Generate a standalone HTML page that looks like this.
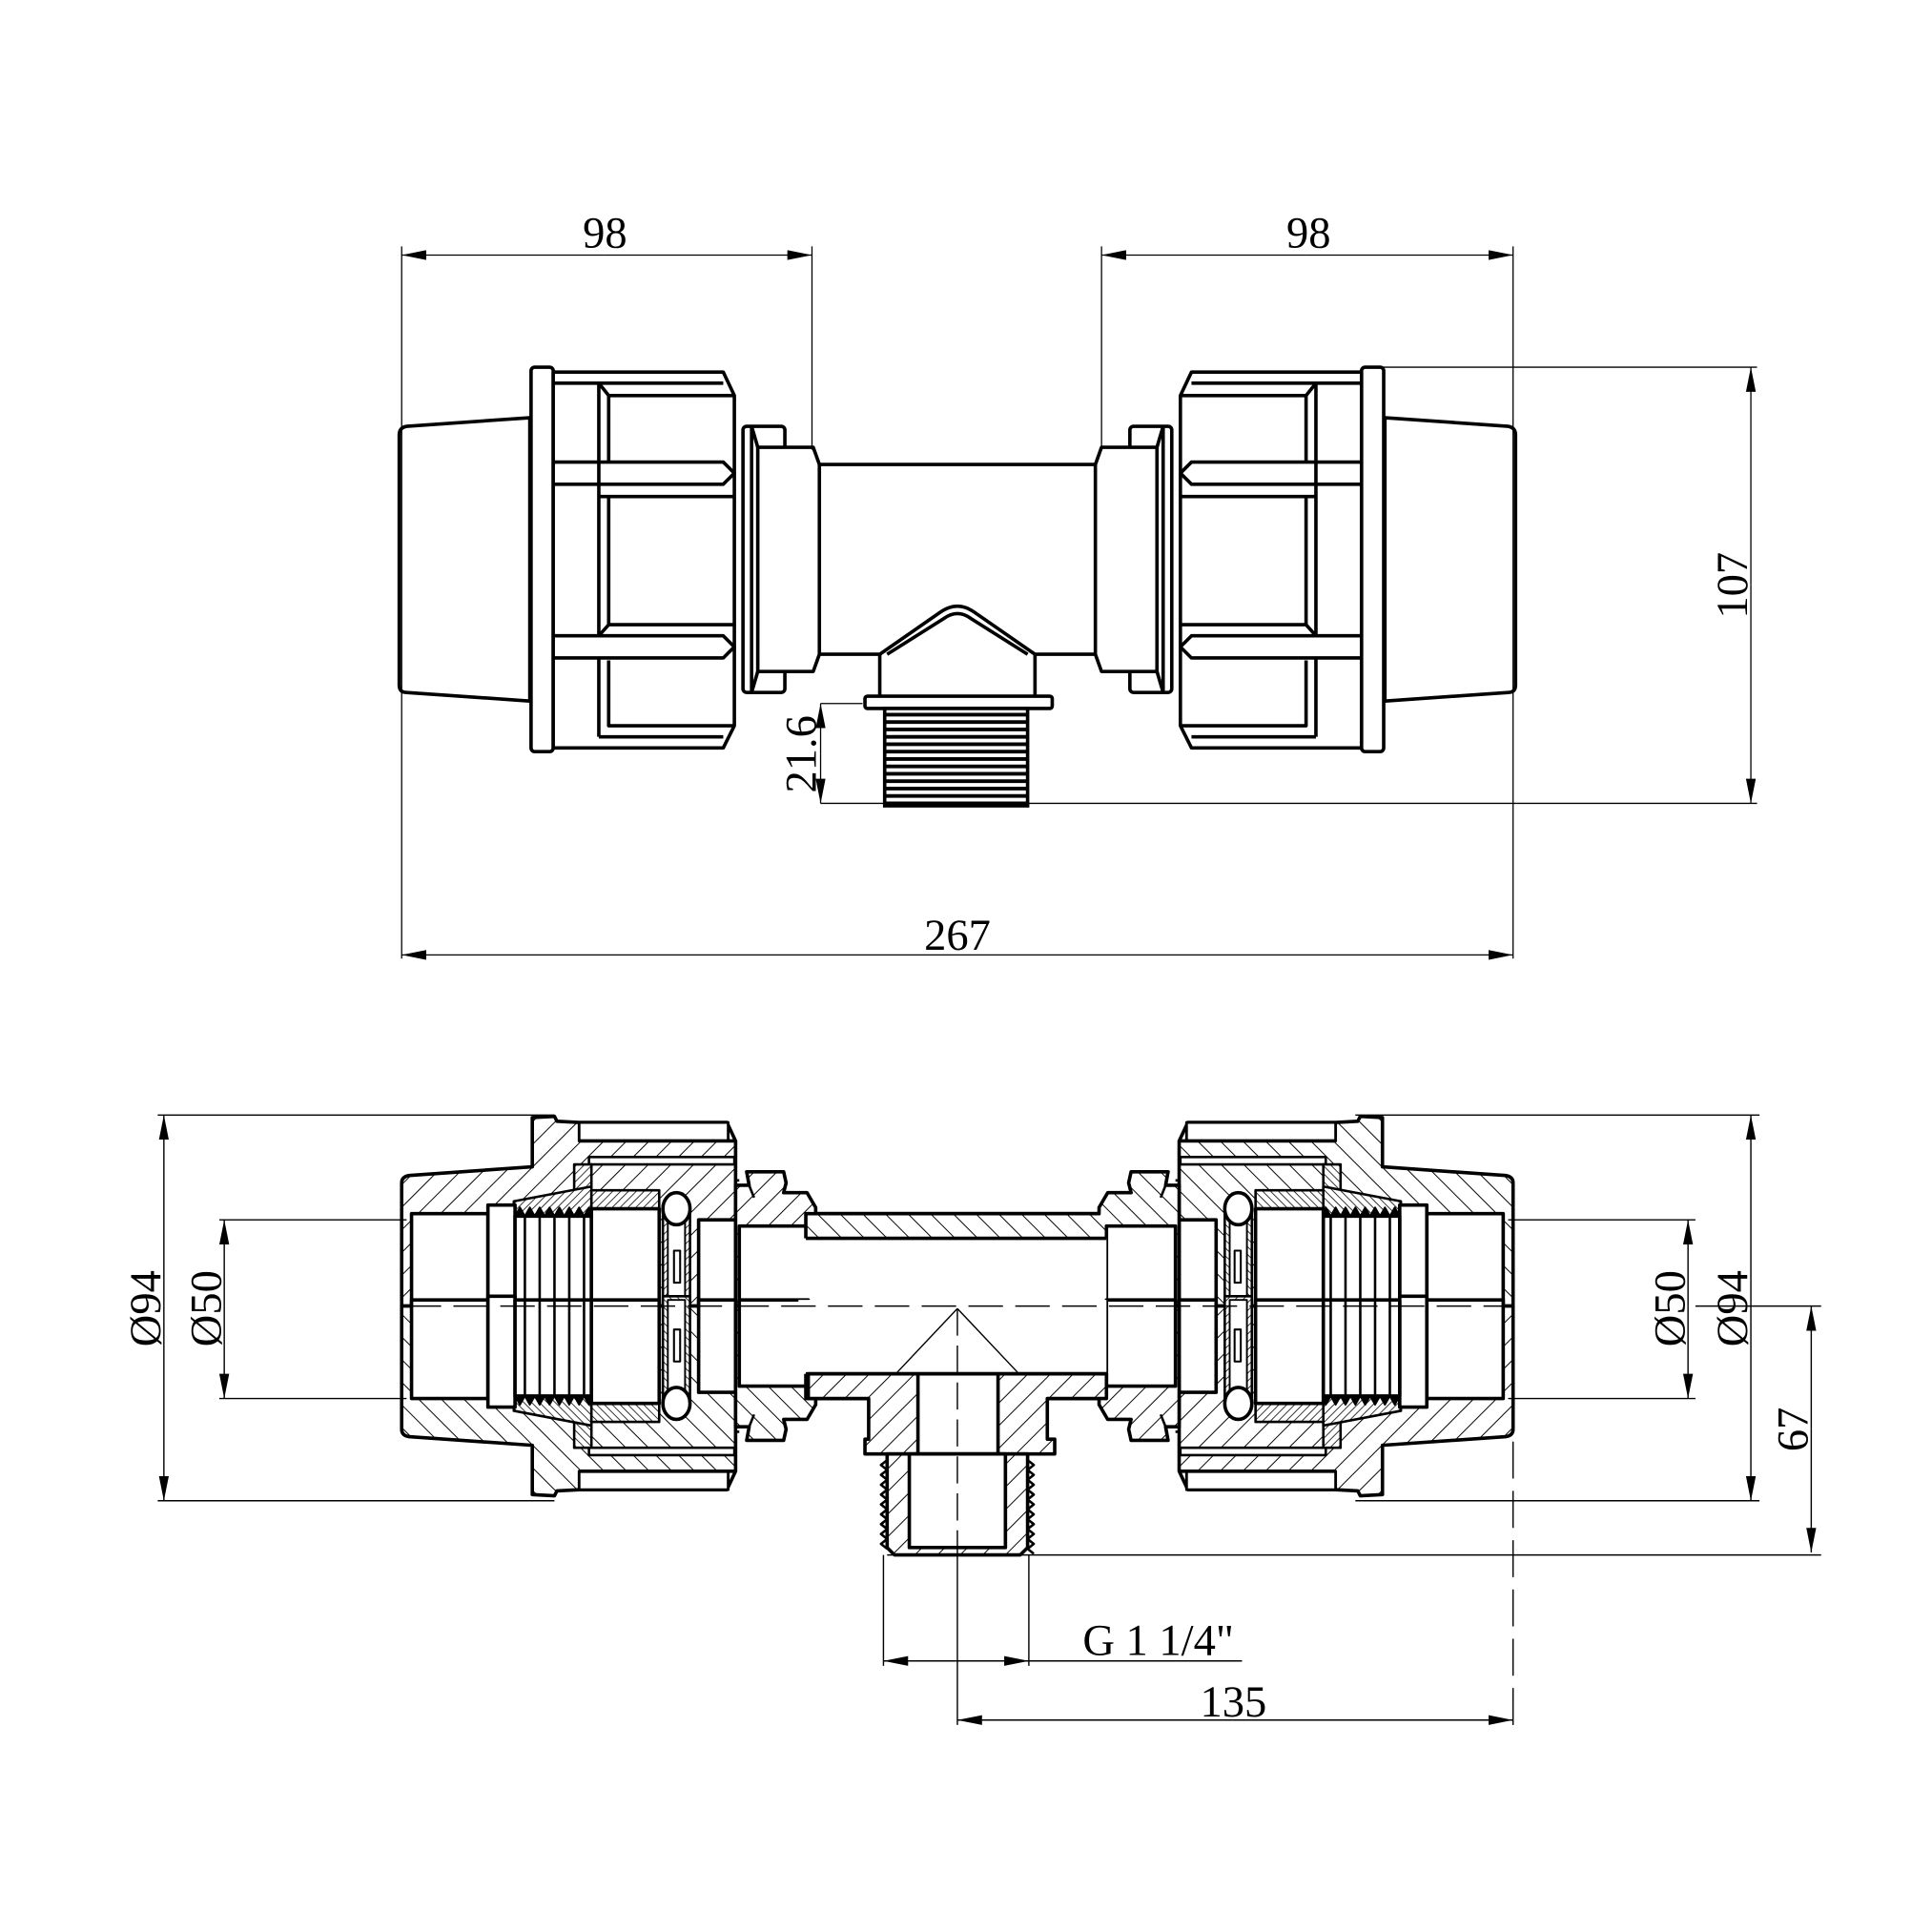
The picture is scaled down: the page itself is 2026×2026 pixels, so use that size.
<!DOCTYPE html>
<html><head><meta charset="utf-8"><style>html,body{margin:0;padding:0;background:#fff}svg{display:block}</style></head>
<body>
<svg xmlns="http://www.w3.org/2000/svg" width="2026" height="2026" viewBox="0 0 1568 1568">
<defs>
<pattern id="h" patternUnits="userSpaceOnUse" width="13" height="13" patternTransform="rotate(45)"><rect width="13" height="13" fill="#fff"/><line x1="0" y1="0" x2="0" y2="13" stroke="#000" stroke-width="1.5"/></pattern>
<pattern id="f" patternUnits="userSpaceOnUse" width="4.5" height="4.5" patternTransform="rotate(45)"><rect width="4.5" height="4.5" fill="#fff"/><line x1="0" y1="0" x2="0" y2="4.5" stroke="#000" stroke-width="1.2"/></pattern>
<marker id="a" viewBox="0 0 20 8" refX="20" refY="4" markerWidth="20" markerHeight="8" orient="auto" markerUnits="userSpaceOnUse"><path d="M0,0 L20,4 L0,8 z" fill="#000"/></marker>

<g id="tl" fill="#fff" stroke="#000" stroke-width="2.8" stroke-linejoin="round">
<path d="M430,339 L330,346 Q324,347 324,353 L324,556 Q324,562 330,562 L430,569 Z"/>
<rect x="431" y="298" width="18" height="312" rx="3"/>
<path d="M449,302 L587,302 L596,321 L596,589 L587,607 L449,607 Z"/>
<path d="M449,311 L587,311 M486,311 L486,375 M494,321 L494,375 M486,311 L494,321 L596,321 M486,375 L486,393 M449,375 L587,375 L596,384 L587,393 L449,393 M486,393 L486,516 M486,403 L494,403 L494,507 L486,516 M494,403 L596,403 M494,507 L596,507 M449,516 L587,516 L596,525 L587,534 L449,534 M486,534 L486,598 M494,536 L494,589 L596,589 M486,598 L587,598" fill="none"/>
<rect x="603" y="346" width="34" height="216" rx="3"/>
<path d="M610,346 L610,562 M610,346 L615,363 M610,562 L615,545" fill="none"/>
<path d="M615,363 L660,363 L665,377 L665,531 L660,545 L615,545 Z"/>
</g>
</defs>

<g font-family="Liberation Serif, serif" font-size="36" fill="#000">
<use href="#tl"/>
<use href="#tl" transform="translate(1554,0) scale(-1,1)"/>
<g fill="none" stroke="#000" stroke-width="2.8">
<path d="M665,377 L889,377 M665,531 L714,531 M840,531 L889,531"/>
<path d="M714,531 L714,565 M840,531 L840,565"/>
<path d="M714,531 L763,497 Q777,487 791,497 L840,531"/>
<path d="M720,531 L766,502 Q777,494 788,502 L834,531"/>
<rect x="702" y="565" width="152" height="10" rx="2" fill="#fff"/>
<rect x="718" y="575" width="116" height="79" fill="#fff"/>
</g>
<g stroke="#000" stroke-width="3">
<path d="M718,580H834M718,586H834M718,592H834M718,598H834M718,604H834M718,610H834M718,616H834M718,622H834M718,628H834M718,634H834M718,640H834M718,646H834M718,652H834"/>
</g>
<g stroke="#000" stroke-width="1" fill="none">
<path d="M326,200 V778 M659,200 V365 M894,200 V365 M1228,200 V778"/>
<path d="M1120,298 H1426 M666,652 H1426 M666,571 H700"/>
<line x1="490" y1="207" x2="326" y2="207" marker-end="url(#a)"/>
<line x1="490" y1="207" x2="659" y2="207" marker-end="url(#a)"/>
<line x1="1060" y1="207" x2="894" y2="207" marker-end="url(#a)"/>
<line x1="1060" y1="207" x2="1228" y2="207" marker-end="url(#a)"/>
<line x1="777" y1="775" x2="326" y2="775" marker-end="url(#a)"/>
<line x1="777" y1="775" x2="1228" y2="775" marker-end="url(#a)"/>
<line x1="1421" y1="475" x2="1421" y2="298" marker-end="url(#a)"/>
<line x1="1421" y1="475" x2="1421" y2="652" marker-end="url(#a)"/>
<line x1="666" y1="612" x2="666" y2="571" marker-end="url(#a)"/>
<line x1="666" y1="612" x2="666" y2="652" marker-end="url(#a)"/>
</g>
<text x="491" y="201" text-anchor="middle">98</text>
<text x="1062" y="201" text-anchor="middle">98</text>
<text x="777" y="771" text-anchor="middle">267</text>
<text transform="translate(1418,475) rotate(-90)" text-anchor="middle">107</text>
<text transform="translate(662,612) rotate(-90)" text-anchor="middle">21.6</text>

<defs>
<g id="q" stroke="#000" stroke-width="2.8" stroke-linejoin="round">
<path d="M326,960 Q326,955 332,954 L432,947 L432,907 L450,906 L452,910 L470,911 L590,911 L597,926 L597,1060 L326,1060 Z" fill="url(#h)"/>
<rect x="470" y="911" width="121" height="15" fill="#fff" stroke-width="2.2"/>
<path d="M470,926 L597,926" fill="none"/>
<rect x="478" y="939" width="118" height="6" fill="#fff" stroke-width="2"/>
<rect x="466" y="945" width="14" height="40" fill="url(#f)" stroke-width="2"/>
<path d="M417,975 L480,963 L480,988 L417,988 Z" fill="url(#f)" stroke-width="2"/>
<rect x="480" y="966" width="55" height="15" fill="url(#f)" stroke-width="2"/>
<rect x="334" y="985" width="62" height="80" fill="#fff"/>
<rect x="396" y="978" width="22" height="90" fill="#fff"/>
<path d="M418,987 L480,987 L480,1065 L418,1065 Z" fill="#fff"/>
<path d="M418,987 L422,980 L426,987 L430,980 L434,987 L438,980 L442,987 L446,980 L450,987 L454,980 L458,987 L462,980 L466,987 L470,980 L474,987 L478,980 L480,987" fill="#000" stroke-width="1.5"/>
<path d="M426,987V1065M438,987V1065M450,987V1065M462,987V1065M474,987V1065" stroke-width="2" fill="none"/>
<rect x="480" y="981" width="55" height="84" fill="#fff"/>
<rect x="538" y="978" width="22" height="90" fill="url(#f)" stroke-width="2"/>
<rect x="542" y="985" width="14" height="80" fill="#fff" stroke-width="1.5"/>
<ellipse cx="549" cy="981" rx="11" ry="13" fill="#fff"/>
<rect x="547" y="1015" width="5" height="26" fill="#fff" stroke-width="1.6"/>
<rect x="567" y="990" width="30" height="75" fill="#fff"/>
<path d="M597,962 L608,962 L606,951 L636,951 L638,960 L636,968 L655,968 L662,980 L662,985 L900,985 L900,1060 L597,1060 Z" fill="url(#h)"/>
<path d="M608,962 L612,972 M597,958 L600,958" fill="none" stroke-width="2"/>
<rect x="600" y="995" width="56" height="70" fill="#fff"/>
<rect x="656" y="1005" width="250" height="60" fill="#fff" stroke="none"/>
<path d="M656,1005 L900,1005" fill="none"/>
</g>
</defs>
<use href="#q"/>
<use href="#q" transform="translate(1554,0) scale(-1,1)"/>
<use href="#q" transform="translate(0,2120) scale(1,-1)"/>
<use href="#q" transform="translate(1554,2120) scale(-1,-1)"/>
<g stroke="#000" stroke-width="2.8" stroke-linejoin="round">
<path d="M656,1115 L898,1115 L898,1135 L850,1135 L850,1168 L856,1168 L856,1180 L702,1180 L702,1168 L705,1168 L705,1135 L656,1135 Z" fill="url(#h)"/>
<rect x="745" y="1115" width="65" height="65" fill="#fff"/>
<path d="M656,1115 L745,1115 M810,1115 L898,1115" fill="none"/>
<path d="M720,1180 L834,1180 L834,1256 L828,1262 L726,1262 L720,1256 Z" fill="url(#h)"/>
<rect x="738" y="1180" width="78" height="76" fill="#fff"/>
<path d="M720,1185 l-5,4 l5,4 l-5,4 l5,4 l-5,4 l5,4 l-5,4 l5,4 l-5,4 l5,4 l-5,4 l5,4 l-5,4 l5,4 l-5,4 l5,4 l-5,4 l5,4 M834,1185 l5,4 l-5,4 l5,4 l-5,4 l5,4 l-5,4 l5,4 l-5,4 l5,4 l-5,4 l5,4 l-5,4 l5,4 l-5,4 l5,4 l-5,4 l5,4 l-5,4 l5,4" fill="none" stroke-width="2"/>
</g>
<g stroke="#000" stroke-width="1.1" fill="none">
<path d="M330,1060 H1228" stroke-dasharray="28,10"/>
<path d="M777,1062 V1262" stroke-dasharray="22,8"/>
<path d="M777,1062 L727,1115 M777,1062 L827,1115"/>
<path d="M128,905 H450 M1100,905 H1428 M128,1218 H450 M1100,1218 H1428 M178,990 H330 M178,1135 H330 M1224,990 H1376 M1224,1135 H1376 M1376,1060 H1478 M720,1262 H1478"/>
<path d="M717,1262 V1352 M835,1262 V1352 M777,1262 V1400"/>
<path d="M1228,1170 V1400" stroke-dasharray="30,10"/>
<line x1="133" y1="1060" x2="133" y2="905" marker-end="url(#a)"/>
<line x1="133" y1="1060" x2="133" y2="1218" marker-end="url(#a)"/>
<line x1="182" y1="1060" x2="182" y2="990" marker-end="url(#a)"/>
<line x1="182" y1="1060" x2="182" y2="1135" marker-end="url(#a)"/>
<line x1="1370" y1="1060" x2="1370" y2="990" marker-end="url(#a)"/>
<line x1="1370" y1="1060" x2="1370" y2="1135" marker-end="url(#a)"/>
<line x1="1421" y1="1060" x2="1421" y2="905" marker-end="url(#a)"/>
<line x1="1421" y1="1060" x2="1421" y2="1218" marker-end="url(#a)"/>
<line x1="1470" y1="1160" x2="1470" y2="1060" marker-end="url(#a)"/>
<line x1="1470" y1="1160" x2="1470" y2="1260" marker-end="url(#a)"/>
<line x1="776" y1="1348" x2="717" y2="1348" marker-end="url(#a)"/>
<line x1="776" y1="1348" x2="835" y2="1348" marker-end="url(#a)"/>
<path d="M835,1348 H1008"/>
<line x1="1000" y1="1396" x2="777" y2="1396" marker-end="url(#a)"/>
<line x1="1000" y1="1396" x2="1228" y2="1396" marker-end="url(#a)"/>
</g>
<text transform="translate(130,1062) rotate(-90)" text-anchor="middle">Ø94</text>
<text transform="translate(179,1062) rotate(-90)" text-anchor="middle">Ø50</text>
<text transform="translate(1367,1062) rotate(-90)" text-anchor="middle">Ø50</text>
<text transform="translate(1418,1062) rotate(-90)" text-anchor="middle">Ø94</text>
<text transform="translate(1467,1160) rotate(-90)" text-anchor="middle">67</text>
<text x="940" y="1343" text-anchor="middle">G 1 1/4"</text>
<text x="1001" y="1393" text-anchor="middle">135</text>
</g>
</svg>
</body></html>
